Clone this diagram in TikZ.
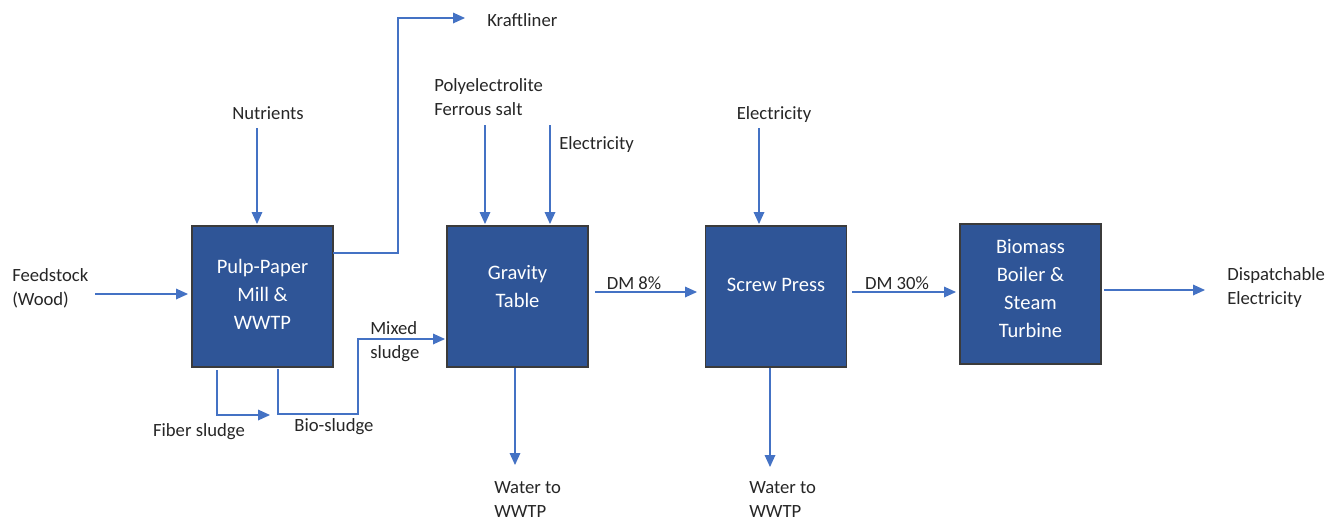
\documentclass[tikz,border=0pt]{standalone}
\usepackage{fontspec}
\setmainfont{Carlito}
\usetikzlibrary{arrows.meta,calc}
\definecolor{boxfill}{HTML}{2F5597}
\definecolor{boxline}{HTML}{3B3B3B}
\definecolor{arrblue}{HTML}{4472C4}
\definecolor{txt}{HTML}{262626}
\tikzset{
  px/.style={x=0.75pt,y=-0.75pt},
  procbox/.style={draw=boxline,line width=1pt,fill=boxfill,
    minimum width=105.75pt,minimum height=105.75pt,inner sep=0pt},
  boxtxt/.style={text=white,inner sep=0pt,align=center,
    font=\fontsize{15.4}{21}\selectfont},
  lbl/.style={text=txt,inner sep=0pt,font=\fontsize{14}{18}\selectfont},
  arr/.style={draw=arrblue,line width=0.9pt,-{Triangle[length=9pt,width=8pt]}},
}
\begin{document}
\begin{tikzpicture}[px]
\useasboundingbox (0,0) rectangle (1329,519);
% boxes
\node[procbox] (pulp) at (262.5,296.5) {};
\node[procbox] (grav) at (517.5,296.5) {};
\node[procbox] (screw) at (776,296.5) {};
\node[procbox,minimum height=105pt] (boil) at (1030.5,294) {};
\node[boxtxt] (pulpT) at ($(pulp.center)+(0,-2)$) {Pulp-Paper\\Mill \&\\WWTP};
\node[boxtxt] (gravT) at ($(grav.center)+(0,-10)$) {Gravity\\Table};
\node[boxtxt] (screwT) at ($(screw.center)+(0,-12)$) {Screw Press};
\node[boxtxt] (boilT) at ($(boil.center)+(0,-5)$) {Biomass\\Boiler \&\\Steam\\Turbine};
% labels
\node[lbl,align=left,anchor=west] (feed) at (12,288) {Feedstock\\(Wood)};
\node[lbl] (nutr) at (268,113) {Nutrients};
\node[lbl,anchor=west] (kraft) at (487,20) {Kraftliner};
\node[lbl,align=left,anchor=west] (poly) at (434,97) {Polyelectrolite\\Ferrous salt};
\node[lbl,anchor=west] (elec1) at (559,145) {Electricity};
\node[lbl] (elec2) at (774,115) {Electricity};
\node[lbl,align=left,anchor=west] (mixed) at (370,342) {Mixed\\sludge};
\node[lbl] (fiber) at (199,432) {Fiber sludge};
\node[lbl] (bio) at (334,427) {Bio-sludge};
\node[lbl] (dm8) at (634,283) {DM 8\%};
\node[lbl] (dm30) at (897,283) {DM 30\%};
\node[lbl,align=left,anchor=west] (wat1) at (494,500) {Water to\\WWTP};
\node[lbl,align=left,anchor=west] (wat2) at (749,500) {Water to\\WWTP};
\node[lbl,align=left,anchor=west] (disp) at (1227,288) {Dispatchable\\Electricity};
% coordinates
\coordinate (fs) at (95,294);
\coordinate (fe) at (188,294);
\coordinate (nS) at (257,128);
\coordinate (nE) at (257,224);
\coordinate (k0) at (333,253);
\coordinate (k1) at (398,253);
\coordinate (k2) at (398,18);
\coordinate (k3) at (465,18);
\coordinate (pS) at (485,125);
\coordinate (pE) at (485,224);
\coordinate (eS) at (550,125);
\coordinate (eE) at (550,224);
\coordinate (f0) at (217,370);
\coordinate (f1) at (217,415);
\coordinate (f2) at (270,415);
\coordinate (b0) at (278,369);
\coordinate (b1) at (278,414);
\coordinate (b2) at (358,414);
\coordinate (b3) at (358,339);
\coordinate (b4) at (445,339);
\coordinate (g0) at (515,368);
\coordinate (g1) at (515,465);
\coordinate (d0) at (595,292);
\coordinate (d1) at (697,292);
\coordinate (s0) at (759,128);
\coordinate (s1) at (759,224);
\coordinate (w0) at (770,368);
\coordinate (w1) at (770,467);
\coordinate (e0) at (852,292);
\coordinate (e1) at (956,292);
\coordinate (o0) at (1104,290);
\coordinate (o1) at (1205,290);
% connectors
\draw[arr] (fs) -- (fe);
\draw[arr] (nS) -- (nE);
\draw[arr] (k0) -- (k1) -- (k2) -- (k3);
\draw[arr] (pS) -- (pE);
\draw[arr] (eS) -- (eE);
\draw[arr] (f0) -- (f1) -- (f2);
\draw[arr] (b0) -- (b1) -- (b2) -- (b3) -- (b4);
\draw[arr] (g0) -- (g1);
\draw[arr] (d0) -- (d1);
\draw[arr] (s0) -- (s1);
\draw[arr] (w0) -- (w1);
\draw[arr] (e0) -- (e1);
\draw[arr] (o0) -- (o1);
\end{tikzpicture}
\end{document}
